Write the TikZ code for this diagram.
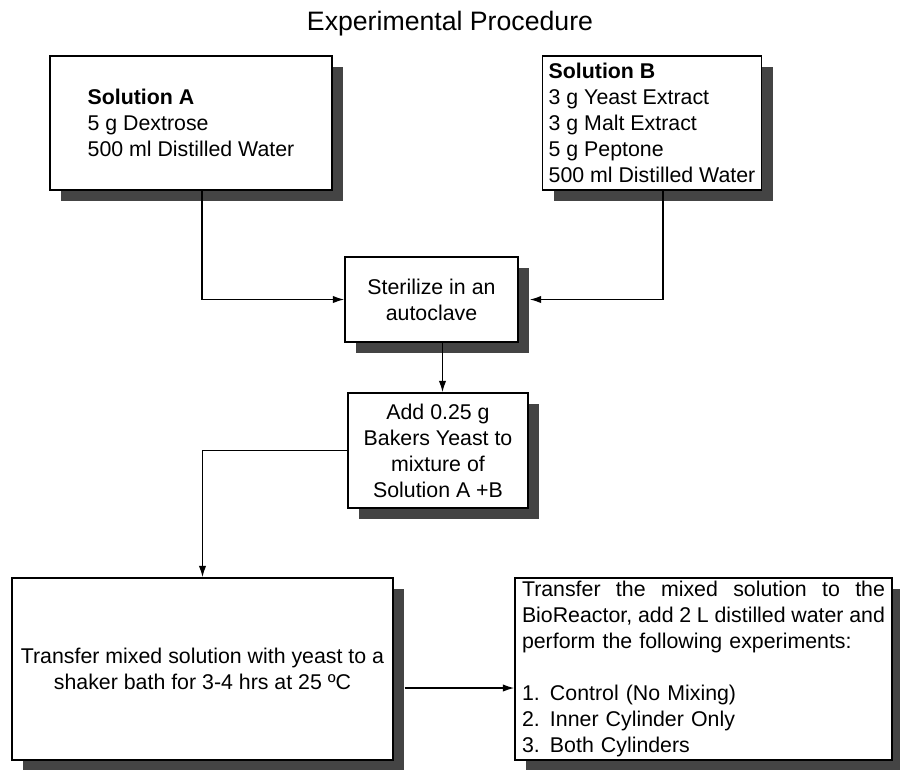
\documentclass[tikz,border=0pt]{standalone}
\usepackage{fontspec}
\setmainfont{Liberation Sans}
\usetikzlibrary{shadows, arrows.meta, positioning}
\definecolor{shadowgray}{HTML}{444444}
% a line spread over the whole text width of the reactor box
\newcommand{\fullline}[1]{\makebox[272.25pt][s]{\spaceskip=0pt\xspaceskip=0pt #1}}

\begin{document}
\begin{tikzpicture}[x=0.75pt, y=-0.75pt, >={Latex[length=8.5pt,width=5.5pt]},
    stepbox/.style={draw, fill=white, line width=1.1pt, inner sep=0pt,
        font=\fontsize{16}{19.5}\selectfont,
        drop shadow={shadow xshift=8.25pt, shadow yshift=-8.25pt, opacity=1, fill=shadowgray}},
    link/.style={line width=1.1pt}]
    \useasboundingbox (0,0) rectangle (900,769);

    % title
    \node[anchor=base] (title) at (450,30) {\fontsize{20}{24}\selectfont Experimental Procedure};

    % the two solutions
    \node[stepbox, minimum width=211.5pt, minimum height=100.5pt, align=left] (solA) at (191,123)
        {\textbf{Solution A}\\5 g Dextrose\\500 ml Distilled Water};
    \node[stepbox, minimum width=164.25pt, minimum height=100.5pt, align=left] (solB) at (652,123)
        {\textbf{Solution B}\\3 g Yeast Extract\\3 g Malt Extract\\5 g Peptone\\500 ml Distilled Water};

    % middle steps
    \node[stepbox, minimum width=129.75pt, minimum height=63.75pt, align=center] (steril) at (431.5,299.5)
        {Sterilize in an\\autoclave};
    \node[stepbox, minimum width=135pt, minimum height=86.25pt, align=center] (add) at (438,450.5)
        {Add 0.25 g\\Bakers Yeast to\\mixture of\\Solution A +B};

    % last two steps
    \node[stepbox, minimum width=285.75pt, minimum height=136.5pt, align=center] (shaker) at (202.5,669)
        {Transfer mixed solution with yeast to a\\shaker bath for 3-4 hrs at 25 ºC};
    \node[stepbox, minimum width=282.75pt, minimum height=136.5pt, text width=272.25pt, align=left] (reactor) at (703.5,669)
        {\fullline{Transfer the mixed solution to the}\\
         \fullline{BioReactor, add 2 L distilled water and}\\
         perform the following experiments:\\[19.5pt]
         \makebox[21pt][l]{1.}Control (No Mixing)\\
         \makebox[21pt][l]{2.}Inner Cylinder Only\\
         \makebox[21pt][l]{3.}Both Cylinders};

    % connectors
    \draw[link, ->] ([xshift=8.25pt]solA.south) |- (steril.west);
    \draw[link, ->] ([xshift=8.25pt]solB.south) |- ([xshift=8.25pt]steril.east);
    \draw[link, ->] ([xshift=8.25pt]steril.south) -- ([xshift=8.25pt]steril.south |- add.north);
    \draw[link, ->] (add.west) -| (shaker.north);
    \draw[link, ->] ([xshift=8.25pt,yshift=-14.25pt]shaker.east) -- ([yshift=-14.25pt]reactor.west);
\end{tikzpicture}
\end{document}
